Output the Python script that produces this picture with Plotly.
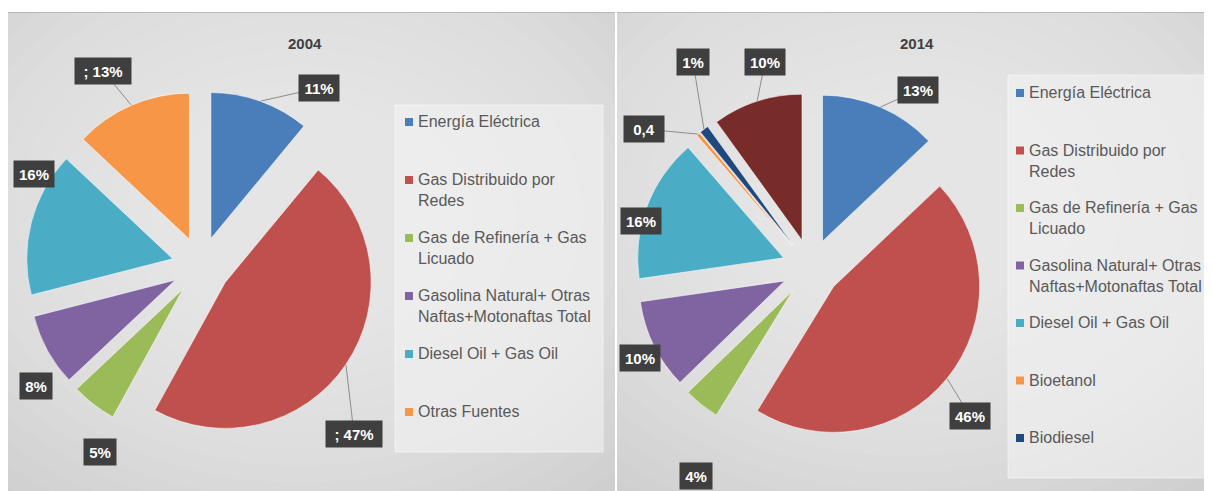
"""Two exploded pies (2004 vs 2014) styled like the Excel originals."""

import math
import textwrap

import plotly.graph_objects as go

W, H = 1212, 491
# the page body adds an 8px margin, so the figure is drawn from (8, 8)
OX, OY = 8, 8
FW, FH = W - OX, H - OY

# ---- data -------------------------------------------------------------
CATS_2004 = [
    "Energía Eléctrica",
    "Gas Distribuido por Redes",
    "Gas de Refinería + Gas Licuado",
    "Gasolina Natural+ Otras Naftas+Motonaftas Total",
    "Diesel Oil + Gas Oil",
    "Otras Fuentes",
]
VALS_2004 = [11, 47, 5, 8, 16, 13]
TEXT_2004 = ["11%", "; 47%", "5%", "8%", "16%", "; 13%"]

CATS_2014 = [
    "Energía Eléctrica",
    "Gas Distribuido por Redes",
    "Gas de Refinería + Gas Licuado",
    "Gasolina Natural+ Otras Naftas+Motonaftas Total",
    "Diesel Oil + Gas Oil",
    "Bioetanol",
    "Biodiesel",
    "Otras Fuentes",
]
VALS_2014 = [13, 46, 4, 10, 16, 0.4, 1, 10]
TEXT_2014 = ["13%", "46%", "4%", "10%", "16%", "0,4", "1%", "10%"]

# ---- styling ----------------------------------------------------------
COLORS_2004 = ["#4a7ebb", "#c0504d", "#9bbb59", "#8064a2", "#4bacc6", "#f79646"]
COLORS_2014 = ["#4a7ebb", "#c0504d", "#9bbb59", "#8064a2", "#4bacc6", "#f79646",
               "#1f497d", "#772c2a"]
FONT = "Liberation Sans Narrow, Arial Narrow, Liberation Sans, Arial, sans-serif"
INK = "#595959"
LABEL_BG = "#3f3f3f"

# Layout of each panel, in screen pixels (y grows downwards).
PANELS = [
    dict(
        rect=(8, 12, 615, 491), glow=(300, 215), title="2004", title_xy=(305, 43),
        cats=CATS_2004, vals=VALS_2004, text=TEXT_2004, colors=COLORS_2004,
        center=(201, 266), r=146, pull=0.2,
        label_xy=[(319, 88), (354, 434), (100, 452), (36, 386), (34, 174), (103, 71)],
        leader=[True, True, False, False, False, True],
        legend_box=(395, 105, 603, 452), legend_x=405, legend_y0=122,
        legend_step=58, legend_n=6,
    ),
    dict(
        rect=(617, 12, 1212, 491), glow=(905, 205), title="2014", title_xy=(917, 43),
        cats=CATS_2014, vals=VALS_2014, text=TEXT_2014, colors=COLORS_2014,
        center=(811, 268), r=146, pull=0.2,
        label_xy=[(918, 90), (970, 416), (696, 476), (640, 358), (641, 221),
                  (644, 129), (693, 62), (765, 62)],
        leader=[True, True, False, False, False, True, True, True],
        legend_box=(1008, 75, 1212, 478), legend_x=1016, legend_y0=93,
        legend_step=57.5, legend_n=7,
    ),
]


def px(x):
    return (x - OX) / FW


def py(y):
    return 1 - (y - OY) / FH


def mid_angles(vals):
    """Clockwise angle (radians from 12 o'clock) at the middle of each slice."""
    total = sum(vals)
    out, cum = [], 0.0
    for v in vals:
        out.append(2 * math.pi * (cum + v / 2) / total)
        cum += v
    return out


fig = go.Figure()
shapes, annotations = [], []

for i, p in enumerate(PANELS):
    sfx = "" if i == 0 else str(i + 1)
    xr, yr = "x" + sfx, "y" + sfx
    x0, y0, x1, y1 = p["rect"]

    # invisible pixel-scaled subplot = panel background + clip region
    fig.add_trace(go.Scatter(x=[None], y=[None], xaxis=xr, yaxis=yr,
                             showlegend=False, hoverinfo="skip"))
    fig.update_layout(**{
        "xaxis" + sfx: dict(domain=[px(x0), px(x1)], range=[x0, x1], visible=False,
                            fixedrange=True, anchor=yr),
        "yaxis" + sfx: dict(domain=[py(y1), py(y0)], range=[y1, y0],
                            visible=False, fixedrange=True, anchor=xr),
    })

    # soft radial glow, faked with stacked translucent ellipses
    gx, gy = p["glow"]
    for k in range(16):
        rx, ry = 480 - k * 22, 370 - k * 17
        shapes.append(dict(type="circle", xref=xr, yref=yr, layer="below",
                           x0=gx - rx, x1=gx + rx, y0=gy - ry, y1=gy + ry,
                           fillcolor="rgba(255,255,255,0.055)", line=dict(width=0)))
    shapes.append(dict(type="line", xref=xr, yref=yr, layer="below",
                       x0=x0, x1=x1, y0=y0 + 0.5, y1=y0 + 0.5,
                       line=dict(color="#b8b8b8", width=1)))

    # the pie itself
    cx, cy = p["center"]
    half = p["r"] * (1 + p["pull"])
    fig.add_trace(go.Pie(
        values=p["vals"], labels=p["cats"], sort=False, direction="clockwise",
        rotation=0, pull=[p["pull"]] * len(p["vals"]),
        marker=dict(colors=p["colors"], line=dict(color="rgba(255,255,255,0.55)", width=1)),
        textinfo="none", hoverinfo="label+percent", showlegend=False,
        domain=dict(x=[px(cx - half), px(cx + half)],
                    y=[py(cy + half), py(cy - half)]),
    ))

    # data labels: dark boxes, with leader lines to the slice edge
    for ang, txt, (lx, ly), lead in zip(mid_angles(p["vals"]), p["text"],
                                         p["label_xy"], p["leader"]):
        if lead:
            ex = cx + half * math.sin(ang)
            ey = cy - half * math.cos(ang)
            shapes.append(dict(type="line", xref=xr, yref=yr, layer="below",
                               x0=lx, y0=ly, x1=ex, y1=ey,
                               line=dict(color="#8c8c8c", width=1)))
        annotations.append(dict(
            x=lx, y=ly, xref=xr, yref=yr, text="<b>%s</b>" % txt, showarrow=False,
            bgcolor=LABEL_BG, width=14 + 8 * len(txt), height=24,
            font=dict(family=FONT, size=15, color="white"),
        ))

    # title
    tx, ty = p["title_xy"]
    annotations.append(dict(x=tx, y=ty, xref=xr, yref=yr, text="<b>%s</b>" % p["title"],
                            showarrow=False, font=dict(family=FONT, size=15, color="#404040")))

    # hand-built legend (the original legend clips the last 2014 entry)
    bx0, by0, bx1, by1 = p["legend_box"]
    shapes.append(dict(type="rect", xref=xr, yref=yr, layer="below",
                       x0=bx0, x1=bx1, y0=by0, y1=by1,
                       fillcolor="rgba(244,244,244,0.55)",
                       line=dict(color="rgba(255,255,255,0.5)", width=1)))
    for j in range(p["legend_n"]):
        yc = p["legend_y0"] + j * p["legend_step"]
        lx = p["legend_x"]
        shapes.append(dict(type="rect", xref=xr, yref=yr, layer="below",
                           x0=lx, x1=lx + 8, y0=yc - 4, y1=yc + 4,
                           fillcolor=p["colors"][j], line=dict(width=0)))
        annotations.append(dict(
            x=lx + 11, y=yc - 11, xref=xr, yref=yr, xanchor="left", yanchor="top",
            align="left", showarrow=False,
            text="<br>".join(textwrap.wrap(p["cats"][j], 23)),
            font=dict(family=FONT, size=16, color=INK),
        ))

fig.update_layout(
    width=FW, height=FH,
    margin=dict(l=0, r=0, t=0, b=0),
    paper_bgcolor="white",
    plot_bgcolor="#cdcdcd",
    showlegend=False,
    shapes=shapes,
    annotations=annotations,
)

fig.write_html("out.html")
